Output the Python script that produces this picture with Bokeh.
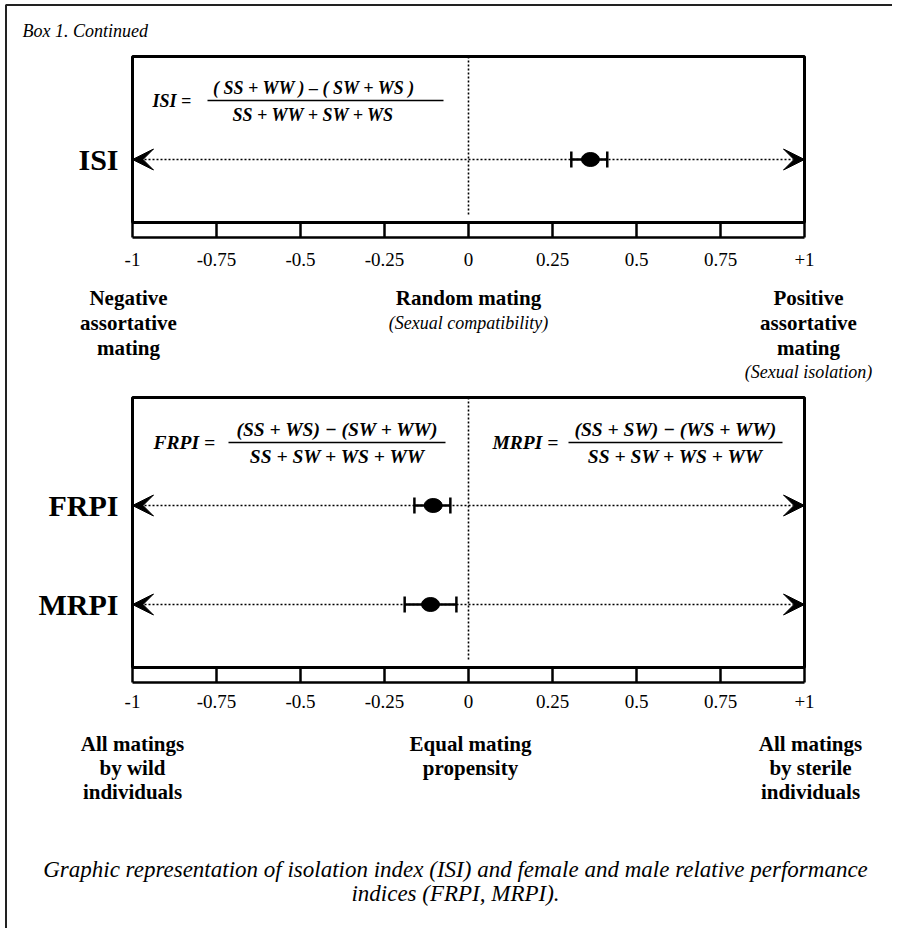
from bokeh.plotting import figure
from bokeh.models import Range1d, Arrow, VeeHead, Whisker, TeeHead, ColumnDataSource
from bokeh.core.properties import value
from bokeh.embed import file_html
from bokeh.resources import INLINE

# ---------------- data ----------------
ticks = [-1, -0.75, -0.5, -0.25, 0, 0.25, 0.5, 0.75, 1]
tick_labels = ["-1", "-0.75", "-0.5", "-0.25", "0", "0.25", "0.5", "0.75", "+1"]

isi_names = ["ISI"]
isi_mean = [0.363]
isi_low = [0.306]
isi_high = [0.413]

rpi_names = ["FRPI", "MRPI"]
rpi_mean = [-0.105, -0.113]
rpi_low = [-0.161, -0.190]
rpi_high = [-0.054, -0.036]

top_left_text = ["Negative", "assortative", "mating"]
top_mid_text = ["Random mating"]
top_mid_sub = ["(Sexual compatibility)"]
top_right_text = ["Positive", "assortative", "mating"]
top_right_sub = ["(Sexual isolation)"]

bot_left_text = ["All matings", "by wild", "individuals"]
bot_mid_text = ["Equal mating", "propensity"]
bot_right_text = ["All matings", "by sterile", "individuals"]

caption = ["Graphic representation of isolation index (ISI) and female and male relative performance",
           "indices (FRPI, MRPI)."]
box_title = "Box 1. Continued"

# ---------------- layout ----------------
W, H, OFF = 892, 928, 0
PX_L, PX_R = 132, 804          # pixels of -1 and +1
span = (ticks[-1] - ticks[0]) * W / (PX_R - PX_L)
xs = ticks[0] - (PX_L - OFF) / W * span
xe = xs + span

FONT = value("Liberation Serif")

p = figure(width=W, height=H, x_range=Range1d(xs, xe), y_range=Range1d(H + OFF, OFF),
           output_backend="svg", toolbar_location=None, min_border=0,
           x_axis_type=None, y_axis_type=None, title=None,
           outline_line_color=None, background_fill_color="white", border_fill_color="white")
p.extra_x_ranges = {"px": Range1d(OFF, W + OFF)}
p.grid.visible = False


def txt(x, y, t, size, style="normal", align="center"):
    p.text(x=x, y=y, text=t, x_range_name="px", text_font=FONT, text_font_size=size,
           text_font_style=style, text_align=align, text_baseline="middle", text_color="black")


# outer border (top and left visible)
p.line(x=[5.5, 5.5, W], y=[H, 4.5, 4.5], x_range_name="px", line_color="#222", line_width=2)
txt([22], [30], [box_title], "18px", "italic", "left")

# panels
panels = [
    dict(top=56, bottom=222, strip=237, zero_end=215, tick_y=259,
         names=isi_names, mean=isi_mean, low=isi_low, high=isi_high, rows=[159]),
    dict(top=397, bottom=667, strip=682, zero_end=660, tick_y=701,
         names=rpi_names, mean=rpi_mean, low=rpi_low, high=rpi_high, rows=[505, 604]),
]

for pn in panels:
    p.quad(left=[ticks[0]], right=[ticks[-1]], top=[pn["top"]], bottom=[pn["bottom"]],
           fill_color=None, line_color="black", line_width=3)
    # tick strip
    p.segment(x0=ticks, x1=ticks, y0=[pn["bottom"]] * len(ticks), y1=[pn["strip"]] * len(ticks),
              line_color="black", line_width=2.5)
    p.segment(x0=[ticks[0]], x1=[ticks[-1]], y0=[pn["strip"]], y1=[pn["strip"]],
              line_color="black", line_width=2.5)
    p.text(x=ticks, y=[pn["tick_y"]] * len(ticks), text=tick_labels, text_font=FONT,
           text_font_size="19px", text_align="center", text_baseline="middle", text_color="black")
    # zero dotted line
    p.segment(x0=[0], x1=[0], y0=[pn["top"]], y1=[pn["zero_end"]], line_color="black",
              line_width=1.6, line_dash="2 2")
    # arrows
    for ry in pn["rows"]:
        p.add_layout(Arrow(start=VeeHead(size=21, fill_color="black", line_color="black", line_width=1),
                           end=VeeHead(size=21, fill_color="black", line_color="black", line_width=1),
                           x_start=ticks[0], x_end=ticks[-1], y_start=ry, y_end=ry,
                           line_color="black", line_width=1.6, line_dash="2 2"))
    src = ColumnDataSource(dict(y=pn["rows"], mean=pn["mean"], lo=pn["low"], hi=pn["high"]))
    p.add_layout(Whisker(source=src, base="y", lower="lo", upper="hi", dimension="width",
                         line_color="black", line_width=2.5,
                         lower_head=TeeHead(size=16, line_width=2.5, line_color="black"),
                         upper_head=TeeHead(size=16, line_width=2.5, line_color="black")))
    p.ellipse(x="mean", y="y", width=18, height=14, width_units="screen", height_units="screen",
              source=src, fill_color="black", line_color="black")
    txt([118] * len(pn["rows"]), pn["rows"], pn["names"], "30px", "bold", "right")

# ISI formula
txt([152], [100], ["ISI  ="], "18px", "bold italic", "left")
p.segment(x0=[207], x1=[443], y0=[100], y1=[100], x_range_name="px", line_color="black", line_width=1.5)
txt([325], [87], ["( SS  + WW   ) \u2013 ( SW  + WS  )"], "18px", "bold italic")
txt([322], [114], ["SS  + WW   + SW  + WS"], "18px", "bold italic")

# FRPI / MRPI formulas
txt([153], [442], ["FRPI ="], "19.5px", "bold italic", "left")
p.segment(x0=[228], x1=[445], y0=[442], y1=[442], x_range_name="px", line_color="black", line_width=1.5)
txt([337], [429], ["(SS + WS) \u2212 (SW + WW)"], "19.5px", "bold italic")
txt([337], [456], ["SS + SW + WS + WW"], "19.5px", "bold italic")

txt([492], [442], ["MRPI ="], "19.5px", "bold italic", "left")
p.segment(x0=[568], x1=[782], y0=[442], y1=[442], x_range_name="px", line_color="black", line_width=1.5)
txt([675], [429], ["(SS + SW) \u2212 (WS + WW)"], "19.5px", "bold italic")
txt([675], [456], ["SS + SW + WS + WW"], "19.5px", "bold italic")

# descriptive labels, top panel
txt([128] * 3, [297, 322, 347], top_left_text, "21px", "bold")
txt([468], [297], top_mid_text, "21px", "bold")
txt([468], [322], top_mid_sub, "18px", "italic")
txt([808] * 3, [297, 322, 347], top_right_text, "21px", "bold")
txt([808], [371], top_right_sub, "18px", "italic")

# descriptive labels, bottom panel
txt([132] * 3, [743, 767, 791], bot_left_text, "21px", "bold")
txt([470] * 2, [743, 767], bot_mid_text, "21px", "bold")
txt([810] * 3, [743, 767, 791], bot_right_text, "21px", "bold")

# caption
txt([455, 455], [869, 893], caption, "23px", "italic")

open("out.html", "w").write(file_html(p, INLINE))
